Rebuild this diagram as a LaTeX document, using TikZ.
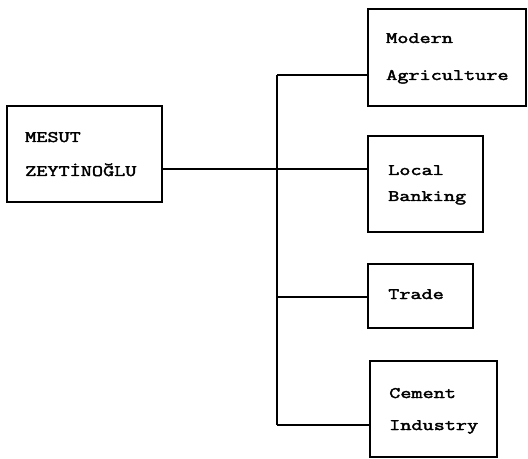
\documentclass[tikz,border=0pt]{standalone}
\usepackage{fontspec}
\newfontfamily\twfont[FakeStretch=1.35,FakeBold=2.5]{Latin Modern Mono}
\begin{document}
\begin{tikzpicture}[x=1bp,y=-1bp,
  box/.style={draw,line width=1.4bp,minimum width=#1,inner sep=0pt,outer sep=0pt},
  lbl/.style={anchor=base west,inner sep=0pt,font=\twfont\fontsize{16bp}{18bp}\selectfont},
  conn/.style={line width=1.4bp}]
\useasboundingbox (0,0) rectangle (528,459);
% boxes
\node[box=155bp,minimum height=96bp] (ms) at (84.5,154) {};
\node[box=158bp,minimum height=97bp] (ag) at (447,57.5) {};
\node[box=115bp,minimum height=96bp] (lb) at (425.5,184) {};
\node[box=105bp,minimum height=64bp] (tr) at (420.5,296) {};
\node[box=127bp,minimum height=96bp] (ce) at (433.5,409) {};
% labels
\node[lbl] (ms1) at (25,142) {MESUT};
\node[lbl] (ms2) at (25,176) {ZEYTİNOĞLU};
\node[lbl] (ag1) at (386,43) {Modern};
\node[lbl] (ag2) at (386,80) {Agriculture};
\node[lbl] (lb1) at (388,175) {Local};
\node[lbl] (lb2) at (388,201) {Banking};
\node[lbl] (tr1) at (388,299) {Trade};
\node[lbl] (ce1) at (389,398) {Cement};
\node[lbl] (ce2) at (389,430) {Industry};
% trunk junctions
\coordinate (t1) at (277,75);
\coordinate (t2) at (277,169);
\coordinate (t3) at (277,297);
\coordinate (t4) at (277,425);
\draw[conn] (t1) -- (t4);
\draw[conn] (t1) -- (ag.west |- t1);
\draw[conn] (ms.east |- t2) -- (lb.west |- t2);
\draw[conn] (t3) -- (tr.west |- t3);
\draw[conn] (t4) -- (ce.west |- t4);
\end{tikzpicture}
\end{document}
